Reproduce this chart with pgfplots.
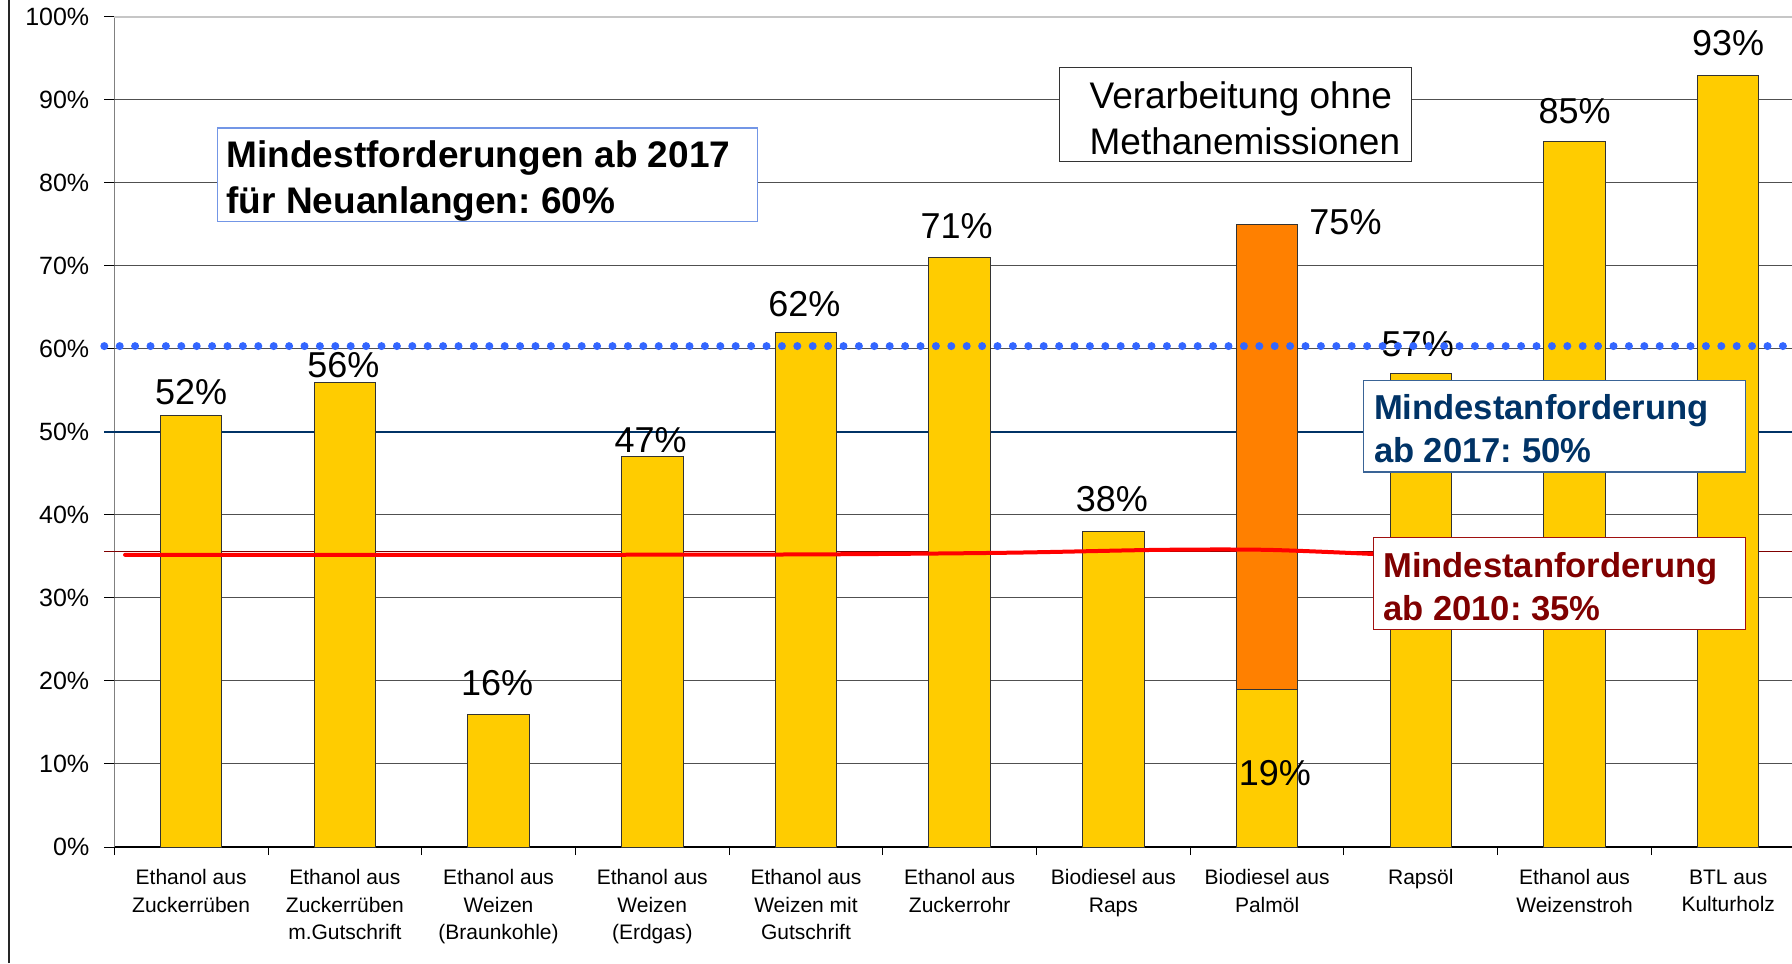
\documentclass[border=0pt]{standalone}
\usepackage{fontspec}
\setmainfont{Liberation Sans}
\usepackage{pgfplots}
\pgfplotsset{compat=1.18}

\definecolor{baryellow}{HTML}{FFCC00}
\definecolor{barorange}{HTML}{FF8000}
\definecolor{dotblue}{HTML}{3366FF}
\definecolor{navytext}{HTML}{003366}
\definecolor{redtext}{HTML}{800000}
\definecolor{gridgray}{HTML}{505050}
\definecolor{boxblue}{HTML}{7396E6}
\definecolor{boxnavy}{HTML}{3A6496}
\definecolor{boxred}{HTML}{A01010}

\tikzset{vlab/.style={font=\fontsize{18}{20}\selectfont, anchor=base, inner sep=0pt}}

\begin{document}
\frenchspacing
\begin{tikzpicture}
\useasboundingbox (0,0) rectangle (896pt,481.5pt);
% slide border
\draw[line width=0.8pt, black!85] (4.6pt,0) -- (4.6pt,481.5pt);

\begin{axis}[
  at={(57.15pt,58pt)}, anchor=south west, scale only axis,
  width=838.85pt, height=415pt,
  xmin=-0.5, xmax=10.415, ymin=0, ymax=100,
  clip=false,
  axis x line*=bottom, axis y line*=left,
  x axis line style={black, line width=0.6pt},
  y axis line style={gray, line width=0.6pt},
  tick align=outside, major tick length=5pt, minor tick length=4pt,
  tick style={black, line width=0.5pt},
  ytick={0,10,...,100},
  yticklabel={\pgfmathprintnumber{\tick}\%},
  extra y ticks={10,20,30,40,60,70,80,90},
  extra y tick labels={},
  extra y tick style={grid=major, major grid style={gridgray, line width=0.5pt}},
  xtick={0,...,10},
  minor xtick={-0.5,0.5,...,9.5},
  major x tick style={draw=none},
  xticklabels={
    {Ethanol aus\\Zuckerrüben},
    {Ethanol aus\\Zuckerrüben\\m.Gutschrift},
    {Ethanol aus\\Weizen\\(Braunkohle)},
    {Ethanol aus\\Weizen\\(Erdgas)},
    {Ethanol aus\\Weizen mit\\Gutschrift},
    {Ethanol aus\\Zuckerrohr},
    {Biodiesel aus\\Raps},
    {Biodiesel aus\\Palmöl},
    {Rapsöl},
    {Ethanol aus\\Weizenstroh},
    {BTL aus\\Kulturholz}},
  /pgf/number format/assume math mode=true,
  yticklabel style={font=\fontsize{12.5}{14}\selectfont, xshift=-4pt},
  xticklabel style={font=\fontsize{10.5}{13.7}\selectfont, align=center, anchor=north, yshift=-2.8pt},
  bar width=0.4,
]
% reference lines under the bars
\draw[gray!45, line width=0.6pt] (axis cs:-0.5,100) -- (axis cs:10.415,100);
\draw[navytext, line width=0.6pt] ([xshift=-5pt]axis cs:-0.5,50) -- (axis cs:10.415,50);
\draw[redtext, line width=0.5pt] ([xshift=-5pt]axis cs:-0.5,35.6) -- (axis cs:10.415,35.6);

% bars
\addplot[ybar, bar shift=0pt, fill=barorange, draw=black!80, line width=0.5pt]
  coordinates {(7,75)};
\addplot[ybar, bar shift=0pt, fill=baryellow, draw=black!80, line width=0.5pt]
  coordinates {(0,52) (1,56) (2,16) (3,47) (4,62) (5,71) (6,38) (7,19) (8,57) (9,85) (10,93)};

% value labels
\node[vlab] at (axis cs:0.0,53.3) {52\%};
\node[vlab] at (axis cs:0.99,56.6) {56\%};
\node[vlab] at (axis cs:1.99,18.2) {16\%};
\node[vlab] at (axis cs:2.99,47.5) {47\%};
\node[vlab] at (axis cs:3.99,63.9) {62\%};
\node[vlab] at (axis cs:4.98,73.3) {71\%};
\node[vlab] at (axis cs:5.99,40.4) {38\%};
\node[vlab] at (axis cs:7.51,73.8) {75\%};
\node[vlab] at (axis cs:7.05,7.4) {19\%};
\node[vlab] at (axis cs:7.98,59.1) {57\%};
\node[vlab] at (axis cs:9.0,87.2) {85\%};
\node[vlab] at (axis cs:10.0,95.3) {93\%};

% hand-drawn 35% line
\addplot[red, line width=2pt, smooth, line cap=round]
  coordinates {(-0.43,35.2) (2,35.2) (4,35.25) (5.3,35.45) (6.3,35.8) (7.0,35.8) (7.69,35.3)};

% dotted 60% line
\draw[dotblue, line width=4pt, line cap=round, dash pattern=on 0pt off 7.7pt]
  ([xshift=-5pt]axis cs:-0.5,60.35) -- (axis cs:10.415,60.35);
\end{axis}

% annotation boxes
\draw[boxblue, fill=white, line width=0.6pt] (108.6pt,370.6pt) rectangle (378.9pt,417.5pt);
\node[anchor=base west, inner sep=0pt, font=\bfseries\fontsize{18.5}{22}\selectfont] at (113.1pt,397.5pt) {Mindestforderungen ab 2017};
\node[anchor=base west, inner sep=0pt, font=\bfseries\fontsize{18.5}{22}\selectfont] at (113.1pt,374.6pt) {für Neuanlangen: 60\%};

\draw[black!80, fill=white, line width=0.6pt] (529.7pt,400.9pt) rectangle (705.7pt,447.8pt);
\node[anchor=base west, inner sep=0pt, font=\fontsize{18.5}{22}\selectfont] at (544.6pt,427.2pt) {Verarbeitung ohne};
\node[anchor=base west, inner sep=0pt, font=\fontsize{18.5}{22}\selectfont] at (544.6pt,404.4pt) {Methanemissionen};

\draw[boxnavy, fill=white, line width=0.6pt] (681.7pt,245.5pt) rectangle (872.6pt,291.2pt);
\node[anchor=base west, inner sep=0pt, text=navytext, font=\bfseries\fontsize{17.3}{21}\selectfont] at (686.8pt,271.8pt) {Mindestanforderung};
\node[anchor=base west, inner sep=0pt, text=navytext, font=\bfseries\fontsize{17.3}{21}\selectfont] at (686.8pt,250.1pt) {ab 2017: 50\%};

\draw[boxred, fill=white, line width=0.6pt] (686.8pt,166.6pt) rectangle (872.6pt,212.9pt);
\node[anchor=base west, inner sep=0pt, text=redtext, font=\bfseries\fontsize{17.3}{21}\selectfont] at (691.4pt,192.9pt) {Mindestanforderung};
\node[anchor=base west, inner sep=0pt, text=redtext, font=\bfseries\fontsize{17.3}{21}\selectfont] at (691.4pt,171.2pt) {ab 2010: 35\%};
\end{tikzpicture}
\end{document}
